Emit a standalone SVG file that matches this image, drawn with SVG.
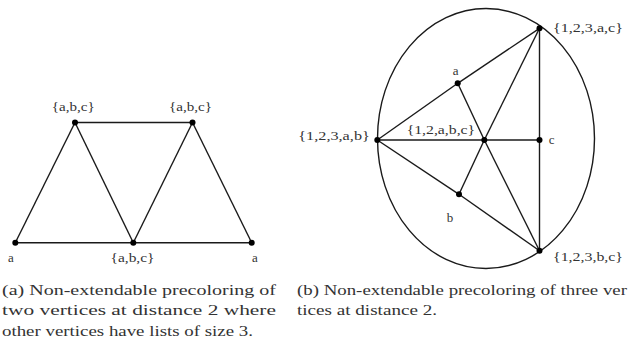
<svg xmlns="http://www.w3.org/2000/svg" width="628" height="349" viewBox="0 0 628 349">
<style>
.e{stroke:#1a1a1a;stroke-width:1.4;fill:none}
.n{fill:#000}
.l{font-family:"Liberation Serif",serif;font-size:13px;fill:#333}
.c{font-family:"Liberation Serif",serif;font-size:15px;fill:#333}
</style>
<rect width="628" height="349" fill="#fff"/>
<g id="connectors">
<line class="e" x1="75" y1="122.5" x2="192.5" y2="122.5"/>
<line class="e" x1="15.3" y1="242.7" x2="251.7" y2="242.7"/>
<line class="e" x1="15.3" y1="242.7" x2="75" y2="122.5"/>
<line class="e" x1="75" y1="122.5" x2="133.3" y2="242.7"/>
<line class="e" x1="133.3" y1="242.7" x2="192.5" y2="122.5"/>
<line class="e" x1="192.5" y1="122.5" x2="251.7" y2="242.7"/>
<ellipse class="e" cx="486" cy="138.5" rx="108.5" ry="130" stroke-width="1.1"/>
<line class="e" x1="377.3" y1="140" x2="539.5" y2="140"/>
<line class="e" x1="539.5" y1="28.3" x2="539.5" y2="250.7"/>
<line class="e" x1="377.3" y1="140" x2="457.7" y2="83.3"/>
<line class="e" x1="457.7" y1="83.3" x2="539.5" y2="28.3"/>
<line class="e" x1="377.3" y1="140" x2="459" y2="194.3"/>
<line class="e" x1="459" y1="194.3" x2="539.5" y2="250.7"/>
<line class="e" x1="457.7" y1="83.3" x2="484.3" y2="140"/>
<line class="e" x1="484.3" y1="140" x2="539.5" y2="250.7"/>
<line class="e" x1="459" y1="194.3" x2="484.3" y2="140"/>
<line class="e" x1="484.3" y1="140" x2="539.5" y2="28.3"/>
</g>
<g id="a-top-left"><circle class="n" cx="75" cy="122.5" r="3"/><text class="l" x="73.3" y="111" text-anchor="middle" textLength="43" lengthAdjust="spacingAndGlyphs">{a,b,c}</text></g>
<g id="a-top-right"><circle class="n" cx="192.5" cy="122.5" r="3"/><text class="l" x="190.5" y="111" text-anchor="middle" textLength="43" lengthAdjust="spacingAndGlyphs">{a,b,c}</text></g>
<g id="a-bottom-left"><circle class="n" cx="15.3" cy="242.7" r="3"/><text class="l" x="11" y="261.5" text-anchor="middle">a</text></g>
<g id="a-bottom-mid"><circle class="n" cx="133.3" cy="242.7" r="3"/><text class="l" x="132.5" y="262" text-anchor="middle" textLength="44" lengthAdjust="spacingAndGlyphs">{a,b,c}</text></g>
<g id="a-bottom-right"><circle class="n" cx="251.7" cy="242.7" r="3"/><text class="l" x="255" y="261.5" text-anchor="middle">a</text></g>
<g id="b-top"><circle class="n" cx="539.5" cy="28.3" r="3"/><text class="l" x="553" y="32" textLength="70" lengthAdjust="spacingAndGlyphs">{1,2,3,a,c}</text></g>
<g id="b-a"><circle class="n" cx="457.7" cy="83.3" r="3"/><text class="l" x="455.7" y="75" text-anchor="middle">a</text></g>
<g id="b-left"><circle class="n" cx="377.3" cy="140" r="3"/><text class="l" x="298.3" y="139.5" textLength="71.5" lengthAdjust="spacingAndGlyphs">{1,2,3,a,b}</text></g>
<g id="b-center"><circle class="n" cx="484.3" cy="140" r="3"/><text class="l" x="406.7" y="134" textLength="68.5" lengthAdjust="spacingAndGlyphs">{1,2,a,b,c}</text></g>
<g id="b-c"><circle class="n" cx="539.5" cy="140" r="3"/><text class="l" x="551.7" y="143.5" text-anchor="middle">c</text></g>
<g id="b-b"><circle class="n" cx="459" cy="194.3" r="3"/><text class="l" x="450" y="222" text-anchor="middle">b</text></g>
<g id="b-bottom"><circle class="n" cx="539.5" cy="250.7" r="3"/><text class="l" x="553" y="261" textLength="70" lengthAdjust="spacingAndGlyphs">{1,2,3,b,c}</text></g>
<g id="captions">
<text class="c" x="2" y="294.5" textLength="274" lengthAdjust="spacingAndGlyphs">(a) Non-extendable precoloring of</text>
<text class="c" x="2" y="315" textLength="274" lengthAdjust="spacingAndGlyphs">two vertices at distance 2 where</text>
<text class="c" x="2" y="335.5" textLength="251" lengthAdjust="spacingAndGlyphs">other vertices have lists of size 3.</text>
<text class="c" x="297" y="294.5" textLength="330" lengthAdjust="spacingAndGlyphs">(b) Non-extendable precoloring of three ver</text>
<text class="c" x="297" y="315" textLength="140" lengthAdjust="spacingAndGlyphs">tices at distance 2.</text>
</g>
</svg>
